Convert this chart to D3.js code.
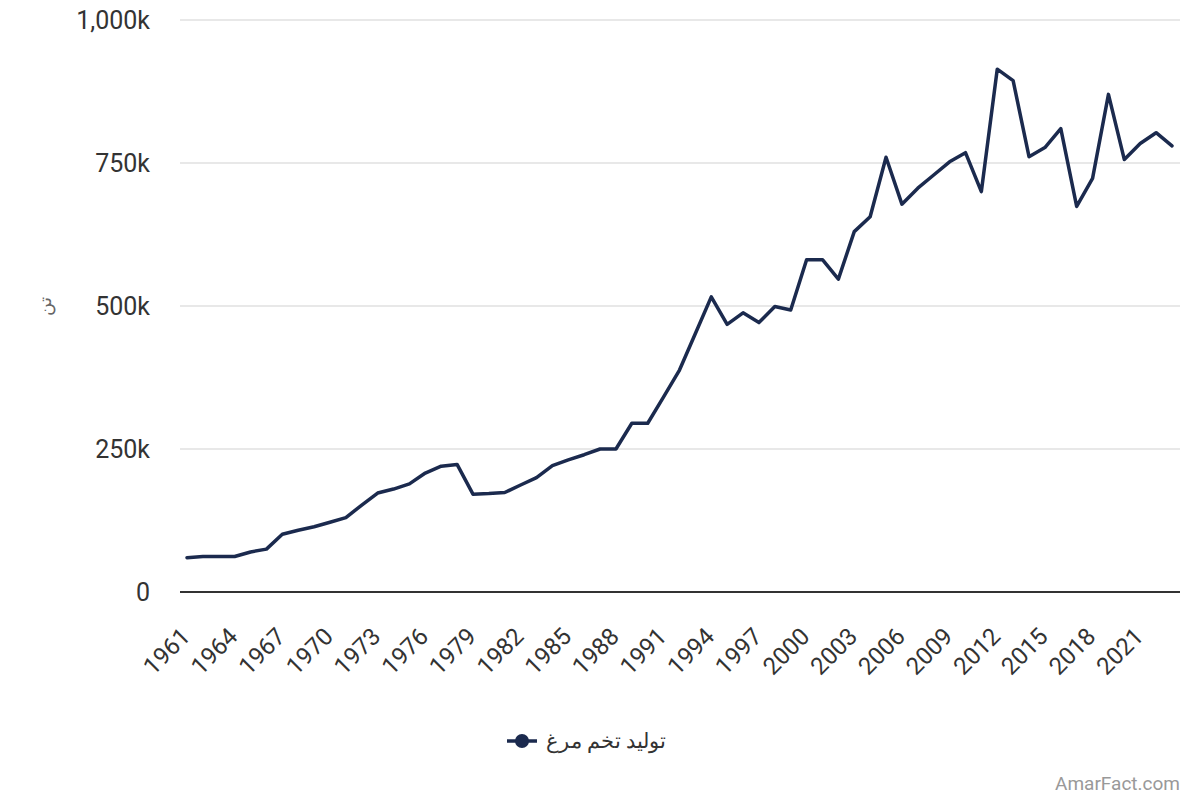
<!DOCTYPE html>
<html>
<head>
<meta charset="utf-8">
<script src="https://cdn.jsdelivr.net/npm/d3@7"></script>
<style>
  body { margin: 0; background: #fff; font-family: Roboto, "Noto Sans", sans-serif; }
  svg text { font-family: Roboto, "Noto Sans", sans-serif; }
</style>
</head>
<body>
<div id="wrapper"></div>
<script>
// data (tonnes)
const years = d3.range(1961, 2024);
const production = [
  60000, 62000, 62000, 62000, 70000, 75000, 101000, 108000, 114000, 122000,
  130000, 152000, 173000, 180000, 189000, 208000, 220000, 223000, 171000, 172000,
  174000, 187000, 200000, 221000, 231000, 240000, 250000, 250000, 295000, 295000,
  341000, 388000, 452000, 516000, 468000, 488000, 471000, 499000, 493000, 581000,
  581000, 547000, 630000, 656000, 760000, 678000, 706000, 729000, 752000, 768000,
  700000, 914000, 894000, 761000, 777000, 810000, 674000, 723000, 870000, 756000,
  784000, 803000, 780000
];
const yTicks = [0, 250000, 500000, 750000, 1000000];
const xTickYears = d3.range(1961, 2024, 3);
const seriesName = 'تولید تخم مرغ';
const yTitle = 'تن';
const lineColor = '#1b2a4e';

const dimensions = {
  width: 1200,
  height: 800,
  margin: { top: 20, right: 20, bottom: 208, left: 180 },
};
dimensions.boundedWidth = dimensions.width - dimensions.margin.left - dimensions.margin.right;
dimensions.boundedHeight = dimensions.height - dimensions.margin.top - dimensions.margin.bottom;

const dataset = years.map((y, i) => ({ year: y, value: production[i] }));
const xAccessor = d => d.year;
const yAccessor = d => d.value;

const wrapper = d3.select('#wrapper')
  .append('svg')
  .attr('width', dimensions.width)
  .attr('height', dimensions.height);

const bounds = wrapper.append('g')
  .attr('transform', `translate(${dimensions.margin.left},${dimensions.margin.top})`);

// scales
const xScale = d3.scaleLinear()
  .domain([1961, 2023])
  .range([7, dimensions.boundedWidth - 8]);

const yScale = d3.scaleLinear()
  .domain([0, 1000000])
  .range([dimensions.boundedHeight, 0]);

// grid
bounds.append('g')
  .selectAll('line')
  .data(yTicks.filter(d => d > 0))
  .join('line')
  .attr('x1', 0)
  .attr('x2', dimensions.boundedWidth)
  .attr('y1', d => yScale(d))
  .attr('y2', d => yScale(d))
  .attr('stroke', '#e0e0e0')
  .attr('stroke-width', 1.5);

// y axis
const yAxisGenerator = d3.axisLeft(yScale)
  .tickValues(yTicks)
  .tickSize(0)
  .tickPadding(30)
  .tickFormat(d => d === 0 ? '0' : d3.format(',')(d / 1000) + 'k');
const yAxis = bounds.append('g').call(yAxisGenerator);
yAxis.select('.domain').remove();
yAxis.selectAll('text')
  .attr('fill', '#333')
  .style('font-size', '25px');

wrapper.append('text')
  .attr('transform', `translate(45,${dimensions.margin.top + yScale(500000)}) rotate(-90)`)
  .attr('text-anchor', 'middle')
  .attr('dy', '0.35em')
  .attr('fill', '#666')
  .style('font-size', '18px')
  .text(yTitle);

// x axis
const xAxisGenerator = d3.axisBottom(xScale)
  .tickValues(xTickYears)
  .tickSize(0)
  .tickFormat(d3.format('d'));
const xAxis = bounds.append('g')
  .attr('transform', `translate(0,${dimensions.boundedHeight})`)
  .call(xAxisGenerator);
xAxis.select('.domain').remove();
xAxis.selectAll('text')
  .attr('fill', '#333')
  .style('font-size', '24px')
  .attr('text-anchor', 'end')
  .attr('dy', null)
  .attr('y', 0)
  .attr('transform', 'translate(4,46) rotate(-45)');

bounds.append('line')
  .attr('x1', 0)
  .attr('x2', dimensions.boundedWidth)
  .attr('y1', dimensions.boundedHeight)
  .attr('y2', dimensions.boundedHeight)
  .attr('stroke', '#333')
  .attr('stroke-width', 2);

// line
const lineGenerator = d3.line()
  .x(d => xScale(xAccessor(d)))
  .y(d => yScale(yAccessor(d)));

bounds.append('path')
  .datum(dataset)
  .attr('d', lineGenerator)
  .attr('fill', 'none')
  .attr('stroke', lineColor)
  .attr('stroke-width', 3.5)
  .attr('stroke-linejoin', 'round')
  .attr('stroke-linecap', 'round');

// legend
const legend = wrapper.append('g')
  .attr('transform', 'translate(522,741)');
legend.append('line')
  .attr('x1', -15)
  .attr('x2', 15)
  .attr('stroke', lineColor)
  .attr('stroke-width', 3.5);
legend.append('circle')
  .attr('r', 7)
  .attr('fill', lineColor);
legend.append('text')
  .attr('x', 24)
  .attr('dy', '0.35em')
  .attr('fill', '#333')
  .style('font-size', '21px')
  .style('direction', 'ltr')
  .attr('text-anchor', 'start')
  .text(seriesName);

// credit
wrapper.append('text')
  .attr('x', 1180)
  .attr('y', 790)
  .attr('text-anchor', 'end')
  .attr('fill', '#999')
  .style('font-size', '19px')
  .text('AmarFact.com');
</script>
</body>
</html>
